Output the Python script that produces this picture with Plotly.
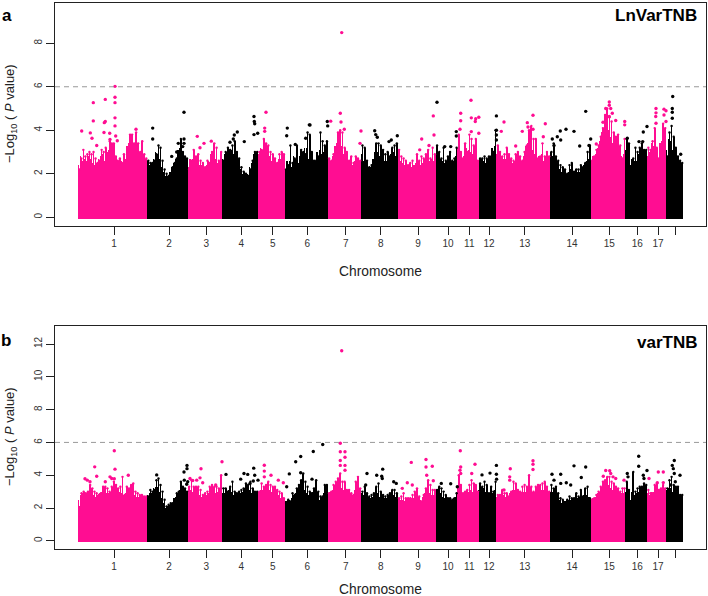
import numpy as np
import plotly.graph_objects as go

PINK = "#FF0D92"
BLACK = "#000000"
FONT = "Liberation Sans"

chrom_edges = [78.3,147.3,188,222.3,258.3,285,328,361.3,398,436,457.7,479,496.7,550.3,591,625.7,647.3,666.3,683.3]
tick_pos = [114,169,206.3,241.3,272.7,307.3,345.7,380.7,418,448,469.3,489,524.7,572,609.3,637.3,658,675]
tick_labels = ["1","2","3","4","5","6","7","8","9","10","11","12","13","14","15","16","17",""]

a_tops = [
 [2.2,2.7,3.1,2.8,2.9,3.0,2.9,3.0,2.7,2.5,2.6,3.1,3.0,3.2,2.9,3.5,3.4,3.4,2.8,2.6,2.7,2.5,2.9,2.6,3.0,3.8,3.8,3.4,3.9,3.4,3.0,3.5,2.9,2.7],
 [2.6,2.5,2.5,2.6,2.9,3.3,3.2,2.6,2.2,2.0,1.9,2.0,2.3,2.5,2.7,3.0,3.6,3.0,2.8,2.7],
 [2.2,2.6,3.1,2.8,2.9,2.6,2.5,2.3,2.6,2.5,3.0,3.4,3.2,2.6,3.0],
 [2.6,3.0,3.2,3.1,3.3,3.5,3.0,2.7,2.3,2.1,2.0,1.9,2.2,2.6,3.0,3.0],
 [3.0,3.1,3.6,3.4,3.3,3.0,2.9,2.7,2.5,2.9,3.0,2.9],
 [2.2,2.4,3.3,2.5,2.7,3.3,2.4,3.1,3.0,2.9,3.9,3.8,3.0,2.6,2.6,2.8,3.9,3.5,3.3,3.5],
 [2.7,2.6,2.9,3.2,3.9,4.0,3.9,3.2,3.0,2.6,2.8,2.5,2.8,2.7,2.6],
 [3.3,3.2,2.6,2.3,2.4,2.6,3.4,3.4,3.3,3.1,2.9,3.0,2.8,3.2,3.3,3.4],
 [3.1,2.8,2.7,2.6,2.4,2.5,2.6,2.3,2.9,2.6,2.8,2.7,2.9,3.1,2.7,3.2,2.9],
 [3.3,3.0,2.7,3.2,2.6,2.8,3.0,2.6,2.7,3.2],
 [3.8,3.0,2.7,3.4,3.0,3.8,3.6,3.3,3.6,2.6],
 [2.7,2.7,2.8,2.7,2.8,2.8,3.0,4.0],
 [3.3,3.0,2.8,2.9,3.2,2.9,2.7,2.6,2.9,3.0,2.8,2.6,3.0,3.3,4.0,4.2,3.6,3.6,2.7,2.8,3.4,2.8,3.0,2.8],
 [3.0,3.4,2.8,2.6,2.4,2.3,2.2,2.0,2.4,2.5,2.1,2.2,2.2,2.4,2.3,2.5,3.0,3.3],
 [2.6,2.8,3.1,3.3,3.7,4.1,4.7,5.0,4.6,4.4,3.9,3.7,3.8,3.3,2.7,3.6],
 [3.6,3.4,2.3,2.7,3.2,3.0,3.2,3.4,3.1,3.1],
 [3.2,3.1,3.5,4.1,3.2,2.7,3.2,4.3,4.1],
 [2.8,3.9,4.2,3.7,3.2,2.8,2.6,2.5],
]
a_mids = [
 [2.4,2.8,2.6,2.7,2.6,2.8,2.7,2.5,2.4,2.5,2.7,2.8,2.9,2.6,3.0,3.1,2.9,2.5,2.4,2.6,2.4,2.6,2.5,2.7,3.3,3.4,3.0,3.4,3.1,2.7,3.0,2.6,2.5,2.5],
 [2.5,2.4,2.5,2.7,3.0,2.9,2.7,2.3,2.1,1.9,1.9,2.1,2.3,2.5,2.7,3.1,3.2,2.7,2.7,2.6],
 [2.3,2.7,2.7,2.6,2.6,2.4,2.4,2.3,2.4,2.6,2.9,3.0,2.7,2.5,2.6],
 [2.7,2.9,2.9,3.0,3.1,2.9,2.7,2.4,2.2,2.0,2.0,2.0,2.3,2.5,2.9,2.7],
 [2.9,3.2,3.1,3.0,2.9,2.8,2.6,2.5,2.5,2.7,2.7,2.6],
 [2.1,2.6,2.6,2.3,2.8,2.7,2.5,2.8,2.7,3.2,3.2,2.7,2.5,2.4,2.6,3.0,3.1,2.9,3.0,2.9],
 [2.6,2.6,2.8,3.3,3.4,3.5,3.3,2.9,2.6,2.5,2.5,2.4,2.6,2.5,2.4],
 [2.9,2.6,2.3,2.2,2.3,2.7,3.0,3.0,2.8,2.7,2.6,2.6,2.7,2.9,3.0,2.8],
 [2.7,2.6,2.5,2.4,2.3,2.4,2.3,2.4,2.5,2.5,2.4,2.5,2.7,2.6,2.6,2.7,2.6],
 [2.8,2.7,2.7,2.6,2.5,2.6,2.5,2.4,2.6,2.8],
 [3.2,2.7,2.5,2.8,3.2,3.1,3.0,2.9,2.8,2.5],
 [2.5,2.6,2.6,2.5,2.6,2.6,3.2,3.3],
 [2.9,2.7,2.6,2.7,2.7,2.6,2.5,2.5,2.6,2.6,2.5,2.6,2.8,3.3,3.4,3.4,3.1,2.9,2.6,2.8,2.9,2.6,2.7,2.6],
 [3.0,2.8,2.5,2.3,2.2,2.1,2.0,2.0,2.1,2.2,2.0,2.0,2.1,2.1,2.2,2.4,2.6,2.7],
 [2.6,2.8,2.9,3.2,3.5,3.9,4.1,4.2,4.0,3.7,3.4,3.3,3.2,2.9,2.8,2.9],
 [3.1,2.6,2.4,2.7,2.6,2.6,2.9,2.9,2.8,2.7],
 [2.8,3.0,3.4,3.3,2.8,2.6,3.4,3.5,3.0],
 [3.1,3.6,3.5,3.1,2.9,2.7,2.6,2.5],
]
a_floors = [
 [2.1,2.2,2.3,2.4,2.3,2.4,2.3,2.3,2.2,2.3,2.2,2.3],
 [2.4,2.4,2.3,2.0,1.8,1.7,1.8,2.0,2.1,2.2],
 [2.1,2.2,2.2,2.0,2.0,2.1,2.2],
 [2.5,2.6,2.6,2.5,2.1,1.9,1.8,2.0,2.4],
 [2.4,2.6,2.5,2.2,2.2],
 [2.0,2.1,2.1,2.2,2.0,2.2,2.2,2.0,2.3,2.4],
 [2.5,2.4,2.6,2.7,2.3,2.2,2.2],
 [2.0,1.9,2.1,2.2,2.1,2.1,2.2],
 [2.2,2.1,2.0,1.9,1.9,2.1,2.0,2.2],
 [2.2,2.1,2.2,2.3],
 [2.3,2.1,2.2,2.3],
 [2.1,2.2,2.3],
 [2.2,2.2,2.0,2.0,2.1,2.2,2.3,2.3,2.2,2.2],
 [2.1,2.0,1.9,1.8,1.8,1.8,1.9,2.0],
 [2.3,2.5,2.7,2.9,2.8,2.6,2.2],
 [2.0,2.1,2.2,2.3],
 [2.5,2.4,2.2],
 [2.7,2.6,2.5],
]
a_out_x = [115,115,115,93.3,105.3,115,93.3,104.3,105.3,115,81.7,90.3,104,109.7,115.7,136,92,96.7,117.3,110,
 152.7,152.7,184,171.7,178.3,184,184,176.7,182.7,
 197.3,211.3,204,200,
 254,254.3,254.7,237.3,234.3,244.3,254,257.7,233.3,230,
 266,264.7,264.7,
 287.3,286.7,309.3,310,327.3,295.3,305.7,327.7,
 341.7,340.3,341,330.7,344.3,361,360,
 374.7,375.7,377.3,397.3,391.3,389,
 421.7,433.3,434,429,419.7,
 437,456.3,456.3,450.7,444.7,
 471,460.7,460.7,460,471.3,475.7,478.8,475.3,471.3,478.8,
 496.4,496.4,496.4,496.4,
 533,504,545.3,501.3,522.3,527.3,528,515.7,543.3,533,
 585.7,566,560.3,574,557.3,552.3,560.7,554,579.7,589,590.7,
 609.3,609.3,605.7,610.7,612.3,603,615.7,624.7,624.7,596.3,609.3,
 647,643.3,639,642.7,627.3,
 656,656,664,666,655.7,656,664,666,
 672.7,672.3,672.3,672.3,680.7]
a_out_y = [6.02,5.52,5.27,5.27,5.42,4.57,4.43,4.35,4.4,4.2,3.97,3.88,3.9,3.86,3.74,4.05,3.63,3.3,3.52,3.58,
 4.1,3.6,4.83,2.8,3.4,3.6,3.4,3.0,3.25,
 3.72,3.5,3.4,3.2,
 4.63,4.4,4.3,3.92,3.78,3.48,3.8,3.86,3.6,3.45,
 4.83,4.1,3.95,
 4.1,3.75,4.25,4.24,4.4,3.35,3.63,4.2,
 8.49,4.78,4.38,4.42,4.05,3.97,3.4,
 3.98,3.8,3.68,3.75,3.55,3.48,
 3.6,4.66,3.78,3.3,3.1,
 5.29,3.94,3.74,3.25,3.25,
 5.38,4.78,4.44,4.05,4.57,4.53,4.6,4.4,3.94,3.86,
 4.66,4.0,3.78,3.55,
 4.69,4.38,4.3,3.95,3.95,4.35,4.15,3.28,3.7,4.05,
 4.87,4.05,3.97,3.95,3.7,3.6,3.55,3.3,3.28,3.3,3.6,
 5.3,5.15,5.0,5.0,4.78,4.37,4.45,4.4,4.25,3.37,4.63,
 4.17,3.92,3.48,3.48,3.63,
 5.0,4.8,4.97,4.9,4.63,4.32,4.7,4.4,
 5.55,5.0,4.83,4.55,2.9]

b_tops = [
 [2.0,2.9,3.0,2.9,3.0,3.4,3.2,3.0,2.9,2.8,2.9,3.3,3.3,3.2,3.0,3.3,3.6,3.4,3.2,3.3,3.9,2.8,3.3,3.2,3.4,3.5,3.0,2.9,2.8,2.8,2.7,2.7],
 [2.7,3.1,3.0,3.1,3.7,3.8,3.4,3.0,2.5,2.1,2.2,2.3,2.3,2.5,2.9,3.0,3.6,3.3,3.2,3.0],
 [3.3,3.7,3.3,3.3,3.3,3.1,2.8,2.9,3.0,3.3,3.4,3.3,3.3,3.2,4.0],
 [3.2,3.2,3.0,3.3,3.6,3.0,2.9,3.0,3.1,3.2,3.5,3.4,3.6,3.2,3.0,3.0],
 [3.0,3.5,3.3,3.4,3.6,3.4,3.3,3.3,3.1,3.0,2.9,2.6],
 [2.3,2.5,2.4,2.9,2.8,3.2,3.4,3.7,4.1,3.6,3.3,3.0,2.9,3.2,3.7,3.0,2.7,2.7,3.4,3.4],
 [2.9,3.0,3.4,3.6,3.8,4.1,3.6,3.6,3.1,3.1,2.9,2.8,3.6,3.9,3.2],
 [3.0,3.3,2.9,2.7,2.8,2.9,3.3,3.5,3.0,2.8,2.7,2.8,2.9,3.1,3.1,2.9],
 [2.6,2.7,2.9,2.6,2.6,2.6,2.8,3.0,3.2,2.7,2.4,2.8,3.2,3.7,3.4,3.1,3.1],
 [3.1,3.3,3.2,3.0,2.8,2.6,2.6,2.5,2.6,2.9],
 [4.0,3.4,2.9,3.0,3.1,3.4,3.7,3.5,3.4,3.0],
 [3.5,3.3,3.6,3.4,2.9,3.3,3.0,3.6],
 [2.8,2.8,3.1,2.9,2.9,2.7,3.0,3.6,3.5,3.1,3.0,3.3,3.4,3.3,4.0,3.3,3.0,3.3,3.4,3.4,3.5,3.6,3.3,3.0],
 [3.4,3.2,3.3,2.9,2.6,2.5,2.3,2.5,2.7,2.6,2.6,2.9,2.7,3.1,2.7,3.2,3.3,2.6],
 [2.5,2.6,2.8,3.0,3.3,3.6,3.7,3.9,3.9,3.6,3.5,3.3,3.2,3.0,3.2,3.2],
 [3.6,3.1,2.2,4.2,3.0,3.2,3.3,3.3,3.5,3.4],
 [3.1,2.9,2.9,3.4,3.5,3.1,3.2,3.4,3.2],
 [3.2,3.7,3.9,3.4,3.3,3.3,2.8,2.8],
]
b_mids = [
 [2.5,2.8,2.9,2.8,2.9,3.0,2.9,2.8,2.7,2.8,2.9,3.0,3.0,2.9,2.9,3.0,3.1,3.0,2.9,3.0,2.9,2.8,2.9,3.0,3.0,2.9,2.8,2.7,2.7,2.7,2.6,2.6],
 [2.8,2.9,2.9,3.2,3.3,3.3,3.0,2.6,2.3,2.0,2.1,2.2,2.3,2.6,2.7,2.9,3.1,3.0,2.9,2.9],
 [3.0,3.1,3.0,3.0,2.9,2.8,2.7,2.7,2.8,2.9,3.0,3.0,2.9,3.0,3.1],
 [2.9,2.9,2.9,3.1,3.0,2.8,2.8,2.8,2.9,3.0,3.0,3.1,3.1,2.9,2.9,2.9],
 [3.0,3.1,3.1,3.2,3.1,3.1,3.0,2.9,2.8,2.8,2.6,2.4],
 [2.4,2.4,2.5,2.6,2.8,2.9,3.1,3.2,3.3,3.1,2.9,2.8,2.8,3.0,3.0,2.7,2.5,2.7,2.9,3.0],
 [2.9,3.0,3.1,3.4,3.4,3.4,3.2,3.1,2.9,2.8,2.7,2.8,3.1,3.2,2.9],
 [2.9,2.8,2.7,2.6,2.6,2.7,2.9,2.9,2.7,2.6,2.6,2.6,2.7,2.8,2.8,2.7],
 [2.4,2.5,2.5,2.4,2.4,2.5,2.6,2.6,2.7,2.5,2.5,2.7,2.9,3.0,2.9,2.8,2.8],
 [2.9,3.0,2.9,2.7,2.6,2.5,2.5,2.5,2.6,2.7],
 [3.3,2.9,2.8,2.8,2.9,3.0,3.1,3.0,2.9,2.8],
 [3.1,3.1,3.2,3.0,2.9,2.9,2.9,3.1],
 [2.7,2.7,2.8,2.8,2.7,2.7,2.9,3.1,3.1,2.9,2.9,3.0,3.0,3.0,3.2,3.0,3.0,3.0,3.0,3.1,3.1,3.1,3.0,2.9],
 [3.0,3.0,2.9,2.7,2.5,2.3,2.4,2.4,2.5,2.5,2.5,2.6,2.6,2.7,2.6,2.8,2.8,2.7],
 [2.5,2.6,2.7,2.9,3.0,3.2,3.3,3.4,3.4,3.2,3.1,3.0,2.9,2.9,2.9,2.9],
 [3.0,2.6,2.5,3.0,2.8,2.9,3.0,3.0,3.0,3.0],
 [2.9,2.8,3.0,3.0,3.0,2.9,3.0,3.0,2.9],
 [3.1,3.2,3.2,3.0,3.0,2.8,2.7,2.7],
]
b_floors = [
 [2.1,2.4,2.5,2.5,2.4,2.4,2.5,2.4,2.4,2.5,2.5,2.4],
 [2.5,2.6,2.4,2.0,1.8,1.9,2.1,2.4,2.7,2.7],
 [2.7,2.7,2.6,2.4,2.5,2.7,2.7],
 [2.6,2.7,2.5,2.5,2.6,2.6,2.7,2.8,2.9],
 [2.8,2.9,2.8,2.5,2.2],
 [2.3,2.3,2.3,2.4,2.5,2.5,2.6,2.3,2.3,2.6],
 [2.7,2.8,3.0,2.8,2.6,2.6,2.7],
 [2.5,2.4,2.3,2.2,2.3,2.2,2.3],
 [2.2,2.1,2.1,2.0,2.2,2.3,2.4,2.4],
 [2.4,2.4,2.2,2.3],
 [2.4,2.4,2.3,2.5],
 [2.5,2.4,2.5],
 [2.3,2.4,2.4,2.3,2.5,2.6,2.6,2.6,2.7,2.6],
 [2.4,2.3,2.1,2.0,2.0,2.1,2.1,2.5],
 [2.4,2.5,2.7,2.8,2.7,2.5,2.4],
 [2.2,1.8,2.3,2.5],
 [2.6,2.6,2.6],
 [2.6,2.5,2.5],
]
b_out_x = [114.3,115,94.7,96.7,128.3,85,87.3,90,105.3,110,111.7,114.3,
 156.7,184,187,187,184.3,187.7,186.7,
 222,201,200,190,192.7,196.7,202.7,215.7,
 226,244,247.7,253.7,254.7,240.7,250,258,253.3,
 264.3,264.3,264.3,271,278.3,283.3,
 322.7,313.3,300.7,295.7,289.3,300.7,312,286.7,
 341.7,340.3,340.3,345,345,340.3,340.3,345,345,
 367,382.7,376.7,381.7,382.3,393.7,396.3,365.7,
 411.3,426,426,432.3,426.7,407.3,402.3,412.3,433.3,
 441.3,450.7,457.3,
 460.3,460.7,460,475,471.7,460.7,
 496.4,490,496.4,482,496.6,
 510.3,509.7,509.7,533,533,533,504,
 574,585.7,552,560.7,554,581.3,570.7,566.3,560.7,
 605.7,609.7,603.3,613,615.7,624,610.7,
 638.7,638.7,647,627.3,628,643.3,644,
 658.3,663.3,649,657.3,663.3,
 674.3,680,672.3,673.3,674.3,675.3,670.7]
b_out_y = [5.49,4.37,4.51,3.94,4.0,3.78,3.7,3.6,3.6,3.9,3.8,3.78,
 4.02,4.2,4.6,4.4,3.7,3.6,3.45,
 4.82,4.39,3.84,3.8,3.68,3.7,3.54,3.4,
 4.05,4.1,4.05,4.43,4.0,3.76,3.5,3.7,3.65,
 4.61,4.25,3.9,4.0,3.7,3.54,
 5.87,5.45,5.14,4.82,4.08,4.15,3.76,3.3,
 11.59,5.95,5.43,5.43,5.1,4.9,4.6,4.6,4.3,
 4.1,4.37,4.0,3.94,3.8,3.6,3.5,3.4,
 4.78,4.96,4.5,4.55,4.0,3.54,3.2,3.4,3.66,
 3.5,3.48,3.3,
 5.49,4.5,4.3,4.67,4.1,4.1,
 4.6,4.13,4.06,4.02,3.76,
 4.39,3.9,3.7,4.88,4.67,4.35,3.1,
 4.57,4.5,4.06,4.06,3.7,3.86,3.4,3.54,3.5,
 4.29,4.27,3.94,3.9,3.8,3.7,4.1,
 5.16,4.55,4.29,4.1,3.9,4.0,3.8,
 4.2,4.2,3.8,3.54,3.55,
 4.9,4.0,4.6,4.4,4.1,3.6,3.4]

threshold = 6
below_zero = 0.07

W, H = 708, 596
fig = go.Figure()

def col(i):
    return PINK if i % 2 == 0 else BLACK

def add_bars(bx, by, bw, bc, xa, ya):
    fig.add_bar(x=bx, y=[v + below_zero for v in by], base=-below_zero, width=bw,
                marker=dict(color=bc, line_width=0), xaxis=xa, yaxis=ya, showlegend=False)

def add_panel(tops, mids, floors, ox, oy, xa, ya):
    bx, by, bw, bc = [], [], [], []
    for i, fl in enumerate(floors):
        e = np.linspace(chrom_edges[i], chrom_edges[i+1], len(fl)+1)
        bx += list((e[:-1]+e[1:])/2); by += list(fl)
        bw += [e[1]-e[0]]*len(fl); bc += [col(i)]*len(fl)
    add_bars(bx, by, bw, bc, xa, ya)
    # interleaved lower columns
    bx, by, bw, bc = [], [], [], []
    for i, t in enumerate(mids):
        e = np.linspace(chrom_edges[i], chrom_edges[i+1], len(t)+1)
        step = e[1]-e[0]
        bx += list(e[:-1]+step*0.02); by += list(t)
        bw += [step*0.3]*len(t); bc += [col(i)]*len(t)
    add_bars(bx, by, bw, bc, xa, ya)
    # upper columns
    bx, by, bw, bc = [], [], [], []
    for i, t in enumerate(tops):
        e = np.linspace(chrom_edges[i], chrom_edges[i+1], len(t)+1)
        step = e[1]-e[0]
        bx += list((e[:-1]+e[1:])/2); by += list(t)
        bw += [step*0.32]*len(t); bc += [col(i)]*len(t)
    add_bars(bx, by, bw, bc, xa, ya)
    fig.add_scatter(x=bx, y=by, mode="markers", marker=dict(color=bc, size=2.4, line_width=0),
                    xaxis=xa, yaxis=ya, showlegend=False)
    idx = np.searchsorted(chrom_edges, ox) - 1
    fig.add_scatter(x=ox, y=oy, mode="markers", marker=dict(color=[col(int(i)) for i in idx], size=3.4, line_width=0),
                    xaxis=xa, yaxis=ya, showlegend=False)

add_panel(a_tops, a_mids, a_floors, a_out_x, a_out_y, "x", "y")
add_panel(b_tops, b_mids, b_floors, b_out_x, b_out_y, "x2", "y2")

xdom = [55/W, 706/W]
def xaxis(anchor):
    return dict(domain=xdom, range=[55, 706], anchor=anchor, tickmode="array", tickvals=tick_pos,
                ticktext=tick_labels, ticks="outside", ticklen=8, tickwidth=1, tickcolor="#222",
                tickfont=dict(family=FONT, size=10, color="#333"), showgrid=False, zeroline=False,
                showline=True, mirror=True, linecolor="#222", linewidth=1.3)
def yaxis(anchor, dom, rng, vals):
    return dict(domain=dom, range=rng, anchor=anchor, tickmode="array", tickvals=vals,
                ticktext=[str(v) for v in vals], tickangle=-90, ticks="outside", ticklen=8, tickwidth=1, tickcolor="#222",
                tickfont=dict(family=FONT, size=10, color="#333"), showgrid=False, zeroline=False,
                showline=True, mirror=True, linecolor="#222", linewidth=1.3)

fig.update_layout(
    width=W, height=H, margin=dict(l=0, r=0, t=0, b=0), autosize=False,
    paper_bgcolor="white", plot_bgcolor="white", barmode="overlay", bargap=0, showlegend=False,
    xaxis=xaxis("y"), xaxis2=xaxis("y2"),
    yaxis=yaxis("x", [1-226/H, 1-3/H], [-0.4, 9.85], [0, 2, 4, 6, 8]),
    yaxis2=yaxis("x2", [1-549/H, 1-326/H], [-0.5, 13.1], [0, 2, 4, 6, 8, 10, 12]),
    shapes=[
        dict(type="line", xref="x", yref="y", x0=55, x1=706, y0=threshold, y1=threshold,
             line=dict(color="#999", width=1, dash="5px,4px")),
        dict(type="line", xref="x2", yref="y2", x0=55, x1=706, y0=threshold, y1=threshold,
             line=dict(color="#999", width=1, dash="5px,4px")),
    ],
)

def note(text, px, py, size, bold=False, angle=0, anchor="center", color="#222"):
    fig.add_annotation(text=f"<b>{text}</b>" if bold else text, xref="paper", yref="paper", x=px/W, y=1-py/H,
                       showarrow=False, textangle=angle, xanchor=anchor, yanchor="middle",
                       font=dict(family=FONT, size=size, color=color))

ylab = "\u2212Log<sub>10</sub> ( <i>P</i> value)"
note(ylab, 10, 114, 13, angle=-90)
note(ylab, 10, 437, 13, angle=-90)
note("Chromosome", 380, 271, 13.8)
note("Chromosome", 380, 589, 13.8)
note("a", 7, 15, 17, bold=True, color="black")
note("b", 6, 340, 17, bold=True, color="black")
note("LnVarTNB", 699, 16, 17, bold=True, anchor="right", color="black")
note("varTNB", 699, 342, 17, bold=True, anchor="right", color="black")

fig.write_html("out.html", config=dict(displayModeBar=False),
               post_script="document.body.style.margin='0';document.documentElement.style.overflow='hidden';")
